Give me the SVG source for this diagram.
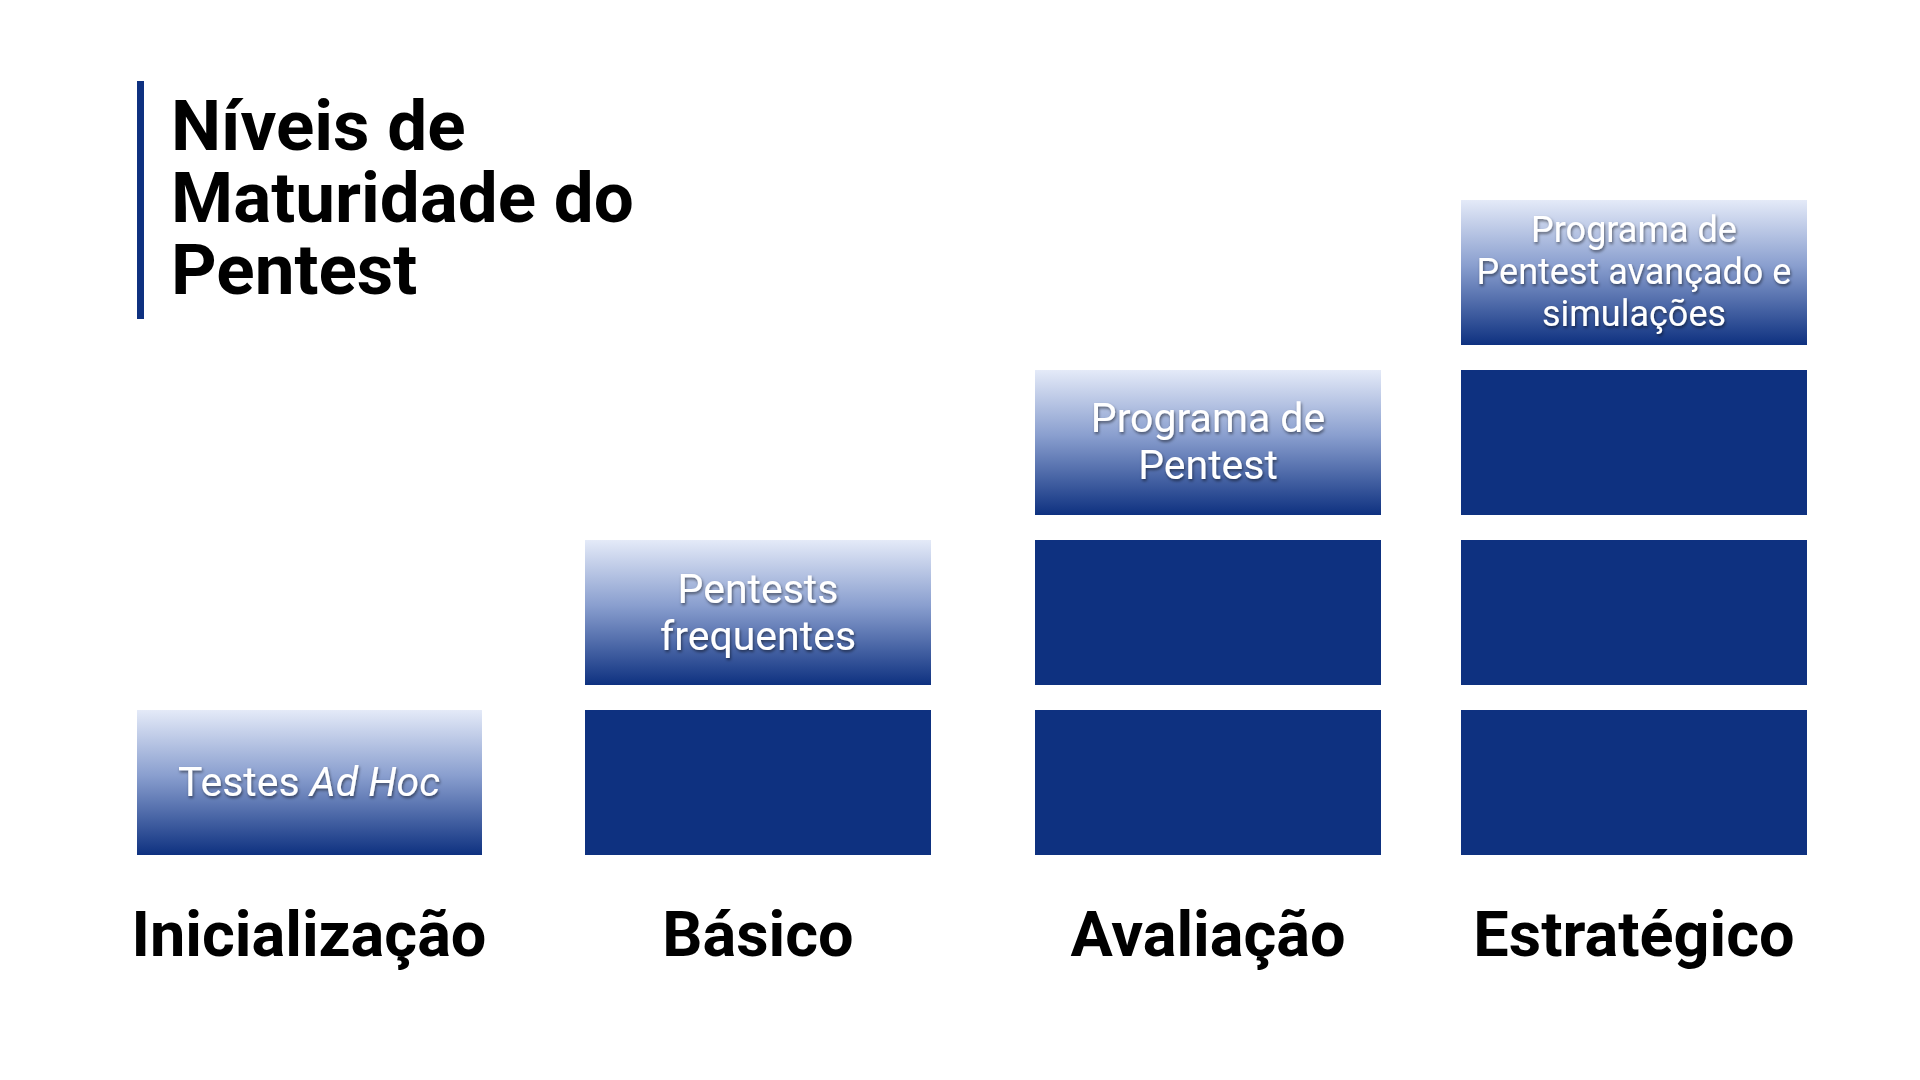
<svg xmlns="http://www.w3.org/2000/svg" width="1920" height="1080" viewBox="0 0 1920 1080">
<defs>
<linearGradient id="g" x1="0" y1="0" x2="0" y2="1">
<stop offset="0" stop-color="#e4eaf8"/>
<stop offset="0.45" stop-color="#8a9fcf"/>
<stop offset="1" stop-color="#0e3180"/>
</linearGradient>
<filter id="sh" x="-10%" y="-10%" width="120%" height="130%">
<feDropShadow dx="1" dy="2" stdDeviation="1.5" flood-color="#000" flood-opacity="0.5"/>
</filter>
</defs>
<style>
.d{fill:#0e3180}
.gr{fill:url(#g)}
.t{font-family:Roboto,"Liberation Sans",sans-serif;fill:#fff;text-anchor:middle;filter:url(#sh)}
.lbl{font-family:Roboto,"Liberation Sans",sans-serif;font-weight:bold;font-size:63px;fill:#000;text-anchor:middle}
.ttl{font-family:Roboto,"Liberation Sans",sans-serif;font-weight:bold;font-size:71px;fill:#000}
</style>
<rect width="1920" height="1080" fill="#fff"/>
<g id="title">
<rect x="137" y="81" width="7" height="238" fill="#0e3180"/>
<text class="ttl" x="171" y="150">Níveis de</text>
<text class="ttl" x="171" y="222">Maturidade do</text>
<text class="ttl" x="171" y="294">Pentest</text>
</g>
<g id="col1">
<rect class="gr" x="137" y="710" width="345" height="145"/>
<text class="t" x="309" y="796" font-size="41">Testes <tspan font-style="italic">Ad Hoc</tspan></text>
<text class="lbl" x="309" y="956">Inicialização</text>
</g>
<g id="col2">
<rect class="d" x="585" y="710" width="346" height="145"/>
<rect class="gr" x="585" y="540" width="346" height="145"/>
<text class="t" x="758" y="603" font-size="41">Pentests</text>
<text class="t" x="758" y="650" font-size="41">frequentes</text>
<text class="lbl" x="758" y="956">Básico</text>
</g>
<g id="col3">
<rect class="d" x="1035" y="710" width="346" height="145"/>
<rect class="d" x="1035" y="540" width="346" height="145"/>
<rect class="gr" x="1035" y="370" width="346" height="145"/>
<text class="t" x="1208" y="432" font-size="41">Programa de</text>
<text class="t" x="1208" y="479" font-size="41">Pentest</text>
<text class="lbl" x="1208" y="956">Avaliação</text>
</g>
<g id="col4">
<rect class="d" x="1461" y="710" width="346" height="145"/>
<rect class="d" x="1461" y="540" width="346" height="145"/>
<rect class="d" x="1461" y="370" width="346" height="145"/>
<rect class="gr" x="1461" y="200" width="346" height="145"/>
<text class="t" x="1634" y="242" font-size="36">Programa de</text>
<text class="t" x="1634" y="284" font-size="36">Pentest avançado e</text>
<text class="t" x="1634" y="326" font-size="36">simulações</text>
<text class="lbl" x="1634" y="956">Estratégico</text>
</g>
<g id="connectors"/>
</svg>
